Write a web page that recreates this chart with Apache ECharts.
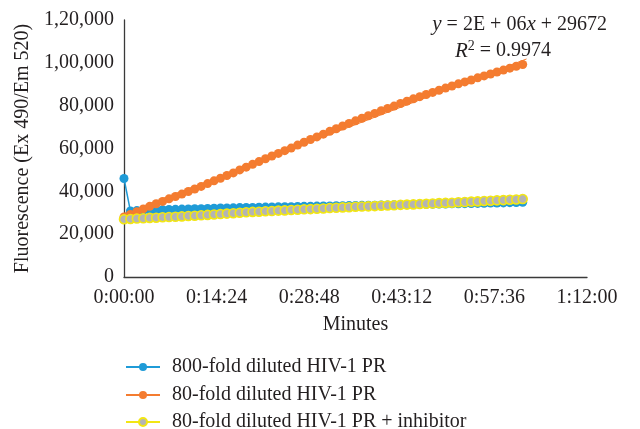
<!DOCTYPE html>
<html>
<head>
<meta charset="utf-8">
<script src="https://cdn.jsdelivr.net/npm/echarts@6/dist/echarts.min.js"></script>
<style>html,body{margin:0;padding:0;background:#fff}#c{width:640px;height:429px}</style>
</head>
<body>
<div id="c"></div>
<script>
// minutes 0..62
var minutes = [];
for (var i = 0; i <= 62; i++) minutes.push(i);
var blueVals = [46000,30800,31000,31100,31200,31300,31400,31500,31600,31700,31800,31850,31900,32000,32100,32200,32250,32300,32400,32450,32500,32600,32650,32700,32750,32800,32850,32900,33000,33050,33100,33150,33200,33250,33300,33350,33400,33450,33500,33550,33600,33650,33700,33750,33800,33850,33900,33950,34000,34050,34100,34150,34200,34250,34300,34350,34400,34500,34550,34600,34700,34800,34900];
var orangeVals = [28000,29200,30500,31800,33000,34200,35300,36500,37600,38700,39900,41100,42300,43600,44900,46100,47400,48600,50000,51300,52600,53900,55200,56500,57700,59000,60200,61600,62900,64200,65400,66700,68000,69200,70500,71700,72900,74100,75300,76400,77600,78700,79800,81000,82100,83200,84200,85200,86200,87200,88200,89200,90200,91100,92000,93000,93900,94800,95700,96600,97500,98400,99200];
var grayVals = [27000,27100,27300,27400,27600,27700,27900,28000,28100,28300,28500,28600,28800,29000,29200,29400,29600,29800,30000,30200,30400,30500,30700,30800,31000,31100,31300,31400,31600,31700,31900,32000,32200,32300,32500,32600,32800,32900,33000,33100,33300,33400,33500,33700,33800,33900,34100,34200,34300,34500,34600,34700,34900,35000,35200,35300,35500,35600,35800,35900,36100,36200,36400];
var trendX = [0, 62.6];
var trendY = [29672, 101800];
var seriesNames = ['800-fold diluted HIV-1 PR','80-fold diluted HIV-1 PR','80-fold diluted HIV-1 PR + inhibitor'];
var yTicks = [0,20000,40000,60000,80000,100000,120000];

function pairs(xs, ys){ return xs.map(function(x,i){ return [x, ys[i]]; }); }
function indian(v){
  var s = String(Math.round(v));
  if (s.length <= 3) return s;
  var last3 = s.slice(-3), rest = s.slice(0,-3);
  rest = rest.replace(/\B(?=(\d{2})+(?!\d))/g, ',');
  return rest + ',' + last3;
}
function hms(m){
  var total = Math.round(m*60);
  var h = Math.floor(total/3600), mm = Math.floor((total%3600)/60), ss = total%60;
  return h + ':' + (mm<10?'0':'') + mm + ':' + (ss<10?'0':'') + ss;
}
var FONT = '"Liberation Serif", "DejaVu Serif", serif';
var TXT = '#231f20';
function legendFor(name, top){
  return {
    orient: 'vertical', left: 120, top: top, itemWidth: 34, itemHeight: 10,
    data: [name],
    textStyle: {fontFamily: FONT, fontSize: 20, color: TXT, padding: [0, 0, 0, 7]}
  };
}
var chart = echarts.init(document.getElementById('c'));
chart.setOption({
  animation: false,
  grid: {left: 124, right: 53, top: 20, bottom: 152, containLabel: false},
  xAxis: {
    type: 'value', min: 0, max: 72, interval: 14.4,
    name: 'Minutes', nameLocation: 'middle', nameGap: 38,
    nameTextStyle: {fontFamily: FONT, fontSize: 20, color: TXT},
    axisLine: {lineStyle: {color: '#3a3a3a', width: 1.3}},
    axisTick: {show: false}, splitLine: {show: false},
    axisLabel: {formatter: hms, fontFamily: FONT, fontSize: 20, color: TXT, margin: 11}
  },
  yAxis: {
    type: 'value', min: 0, max: 120000, interval: 20000,
    name: 'Fluorescence (Ex 490/Em 520)', nameLocation: 'middle', nameGap: 91,
    nameTextStyle: {fontFamily: FONT, fontSize: 20, color: TXT},
    axisLine: {show: true, lineStyle: {color: '#3a3a3a', width: 1.3}},
    axisTick: {show: false}, splitLine: {show: false},
    axisLabel: {formatter: indian, fontFamily: FONT, fontSize: 20, color: TXT, margin: 10}
  },
  legend: [legendFor(seriesNames[0], 352), legendFor(seriesNames[1], 380), legendFor(seriesNames[2], 407)],
  graphic: [
    {type: 'text', right: 33, top: 14, style: {
      text: '{i|y} = 2E + 06{i|x} + 29672',
      font: '20px ' + FONT, fill: TXT,
      rich: {i: {fontStyle: 'italic', fontFamily: FONT, fontSize: 21}}
    }},
    {type: 'text', left: 455, top: 39, style: {
      text: '{i|R}{s|2} = 0.9974',
      font: '20px ' + FONT, fill: TXT,
      rich: {i: {fontStyle: 'italic', fontFamily: FONT, fontSize: 21}, s: {fontFamily: FONT, fontSize: 14, verticalAlign: 'top', padding: [0,0,10,0]}}
    }}
  ],
  series: [
    {name: seriesNames[0], type: 'line', data: pairs(minutes, blueVals), symbol: 'circle', symbolSize: 9,
     itemStyle: {color: '#1f9bd7'}, lineStyle: {color: '#1f9bd7', width: 1.5}, z: 2},
    {name: 'trend', type: 'line', data: pairs(trendX, trendY), symbol: 'none',
     lineStyle: {color: '#f47c30', width: 1}, z: 2, silent: true},
    {name: seriesNames[1], type: 'line', data: pairs(minutes, orangeVals), symbol: 'circle', symbolSize: 9,
     itemStyle: {color: '#f47c30'}, lineStyle: {color: '#f47c30', width: 1.5}, z: 3},
    {name: seriesNames[2], type: 'line', data: pairs(minutes, grayVals), symbol: 'circle', symbolSize: 9,
     itemStyle: {color: '#b4b4b4', borderColor: '#f2e614', borderWidth: 1.6},
     lineStyle: {color: '#f2e614', width: 1.5}, z: 4}
  ]
});
</script>
</body>
</html>
